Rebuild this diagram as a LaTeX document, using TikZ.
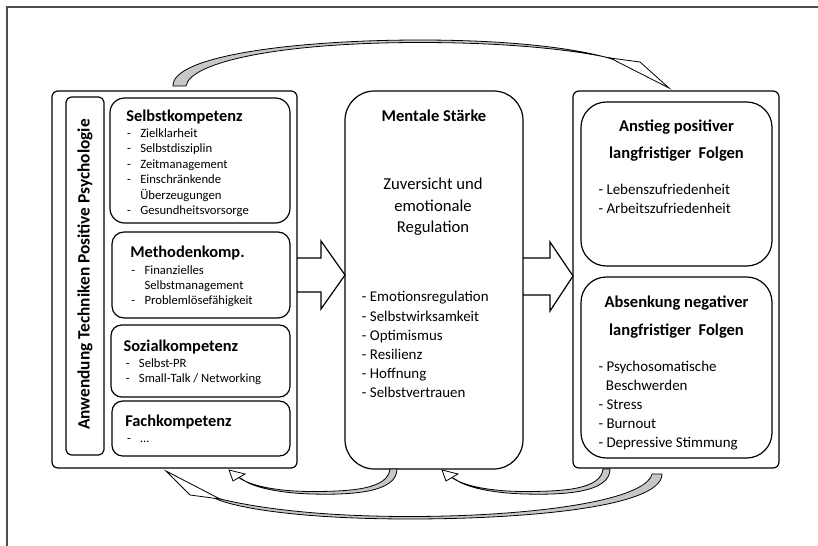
\documentclass[tikz,border=0pt]{standalone}
\usepackage{fontspec}
\setmainfont{Carlito}
\usetikzlibrary{fit,calc}
\newcommand\dsh{\llap{-\hspace{6.9pt}}}
\tikzset{
  obox/.style={draw, line width=0.9pt, rounded corners=4.5pt, inner sep=0pt, fit={#1}},
  ibox/.style={draw, line width=0.9pt, rounded corners=8pt, inner sep=0pt, fit={#1}},
  ttl/.style={font=\fontsize{12.3}{14}\selectfont\bfseries, inner sep=0pt, anchor=base west},
  ttlc/.style={font=\fontsize{12.4}{14}\selectfont\bfseries, inner sep=0pt, anchor=base},
  itm/.style={font=\fontsize{9.5}{11}\selectfont, inner sep=0pt, anchor=base west},
  mitm/.style={font=\fontsize{11.2}{13}\selectfont, inner sep=0pt, anchor=base west},
  zuv/.style={font=\fontsize{12.5}{14}\selectfont, inner sep=0pt, anchor=base},
  blockarr/.style={draw, fill=white, line width=0.9pt, line join=miter},
  ribbon/.style={fill=black!22, draw=black, line width=0.6pt},
  rhead/.style={fill=white, draw=black, line width=0.6pt, line join=miter},
}
\begin{document}
\begin{tikzpicture}[x=0.75pt,y=-0.75pt]
\useasboundingbox (0,0) rectangle (818,546);
% frame
\draw[line width=1.5pt, draw=black!70] (7,546) -- (7,7) -- (818,7);

% block arrows
\draw[blockarr] (297,258) -- (321,258) -- (321,241) -- (345,275) -- (321,309) -- (321,292) -- (297,292);
\draw[blockarr] (523,258) -- (550,258) -- (550,242) -- (573,276) -- (550,311) -- (550,295) -- (523,295);

% left column
\node[obox={(52,91)(297,468)}] (L) {};
\node[obox={(66,97)(104,455)}, rounded corners=4pt] (V) {};
\node[rotate=90, font=\fontsize{13}{15}\selectfont\bfseries, inner sep=0pt] (Vt) at (85,274.5) {Anwendung Techniken Positive Psychologie};

\node[ibox={(110,98)(290,223)}, rounded corners=11pt] (SK) {};
\node[ttl] (SKt) at (126,121.7) {Selbstkompetenz};
\node[itm] (SK1) at (140,137.3) {\dsh Zielklarheit};
\node[itm] (SK2) at (140,152.7) {\dsh Selbstdisziplin};
\node[itm] (SK3) at (140,168.3) {\dsh Zeitmanagement};
\node[itm] (SK4) at (140,183.3) {\dsh Einschränkende};
\node[itm] (SK5) at (140,199) {Überzeugungen};
\node[itm] (SK6) at (140,214.3) {\dsh Gesundheitsvorsorge};

\node[ibox={(112,232)(290,318)}, rounded corners=9pt] (MK) {};
\node[ttl] (MKt) at (130,257.7) {Methodenkomp.};
\node[itm] (MK1) at (144.3,274.3) {\dsh Finanzielles};
\node[itm] (MK2) at (144.3,289) {Selbstmanagement};
\node[itm] (MK3) at (144.3,304.7) {\dsh Problemlösefähigkeit};

\node[ibox={(111,325)(290,397)}] (SZ) {};
\node[ttl] (SZt) at (123.3,351) {Sozialkompetenz};
\node[itm] (SZ1) at (138.7,367.3) {\dsh Selbst-PR};
\node[itm] (SZ2) at (138.7,382.7) {\dsh Small-Talk / Networking};

\node[ibox={(112,401)(290,456)}] (FK) {};
\node[ttl] (FKt) at (125,426.7) {Fachkompetenz};
\node[itm] (FK1) at (140,442.7) {\dsh …};

% middle column
\node[obox={(345,91)(523,469)}, rounded corners=22pt] (M) {};
\node[ttlc] (Mt) at (434,121.7) {Mentale Stärke};
\node[zuv] (Z1) at (433,189.3) {Zuversicht und};
\node[zuv] (Z2) at (433,211) {emotionale};
\node[zuv] (Z3) at (433,232.7) {Regulation};
\node[mitm] (M1) at (361.7,301.7) {- Emotionsregulation};
\node[mitm] (M2) at (361.7,321) {- Selbstwirksamkeit};
\node[mitm] (M3) at (361.7,340) {- Optimismus};
\node[mitm] (M4) at (361.7,359.3) {- Resilienz};
\node[mitm] (M5) at (361.7,378.7) {- Hoffnung};
\node[mitm] (M6) at (361.7,397.7) {- Selbstvertrauen};

% right column
\node[obox={(573,91)(779,468)}] (R) {};
\node[ibox={(581,102)(772,266)}, rounded corners=19pt] (RP) {};
\node[ttlc] (RPt1) at (676.5,131) {Anstieg positiver};
\node[ttlc] (RPt2) at (676.5,158.3) {langfristiger\ \ Folgen};
\node[mitm] (RP1) at (598.3,194.3) {- Lebenszufriedenheit};
\node[mitm] (RP2) at (598.3,213.3) {- Arbeitszufriedenheit};

\node[ibox={(581,277)(772,458)}, rounded corners=19pt] (RN) {};
\node[ttlc] (RNt1) at (676.5,307.3) {Absenkung\ negativer};
\node[ttlc] (RNt2) at (676.5,335) {langfristiger\ \ Folgen};
\node[mitm] (RN1) at (598.3,371.7) {- Psychosomatische};
\node[mitm] (RN2) at (605.7,390.7) {Beschwerden};
\node[mitm] (RN3) at (598.3,409.3) {- Stress};
\node[mitm] (RN4) at (598.3,428.3) {- Burnout};
\node[mitm] (RN5) at (598.3,447.3) {- Depressive Stimmung};

% curved ribbon arrows
% top: left -> right
\draw[ribbon] (173,86) .. controls (172,55) and (300,40) .. (420,40)
  .. controls (520,40) and (585,50) .. (615,60) -- (622,61)
  .. controls (590,52) and (520,42.5) .. (420,42.5)
  .. controls (280,42.5) and (190,62) .. (186,86) -- cycle;
\draw[rhead] (610,58) -- (669,88) -- (640,62) -- cycle;

% bottom big: right -> left
\draw[ribbon] (662,474) .. controls (662,508) and (520,519) .. (410,519)
  .. controls (300,519) and (235,508) .. (214,498) -- (206,495)
  .. controls (235,504) and (300,516.5) .. (410,516.5)
  .. controls (525,516.5) and (645,502) .. (652,474) -- cycle;
\draw[rhead] (190,495) -- (166,471) -- (220,499) -- cycle;

% bottom small: middle -> left
\draw[ribbon] (397,469) .. controls (397,493) and (350,495) .. (312,494)
  .. controls (275,493) and (250,486) .. (242,479) -- (238,477)
  .. controls (250,486) and (278,491.5) .. (312,491.5)
  .. controls (352,491.5) and (388,489) .. (390,469) -- cycle;
\draw[rhead] (233,481) -- (229,470) -- (245,474) -- cycle;

% bottom small: right -> middle
\draw[ribbon] (610,469) .. controls (610,493) and (563,495) .. (525,494)
  .. controls (488,493) and (463,486) .. (455,479) -- (451,477)
  .. controls (463,486) and (491,491.5) .. (525,491.5)
  .. controls (565,491.5) and (601,489) .. (603,469) -- cycle;
\draw[rhead] (446,481) -- (442,470) -- (458,474) -- cycle;
\end{tikzpicture}
\end{document}
